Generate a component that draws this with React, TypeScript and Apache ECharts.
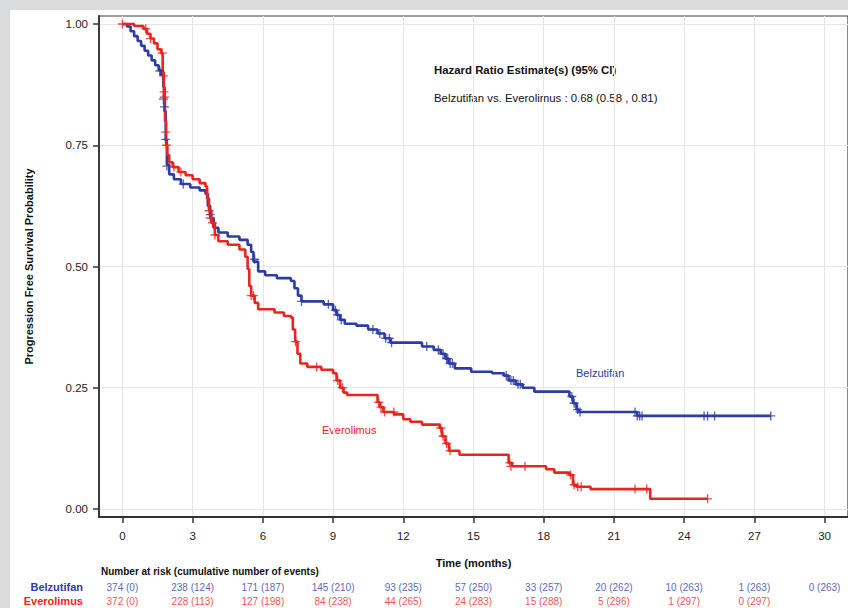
import React, { useEffect, useRef } from "react";
import * as echarts from "echarts";

const FONT = '"Liberation Sans", Arial, Helvetica, sans-serif';
const BLUE = "#2D3CA2";
const RED = "#E8251E";

// Axis ticks
const xTicks = [0, 3, 6, 9, 12, 15, 18, 21, 24, 27, 30];
const yTicks = [0, 0.25, 0.5, 0.75, 1.0];

// Kaplan-Meier step points: [months, survival probability]
const belzutifanCurve: [number, number][] = [
  [0, 1.0], [0.2, 0.995], [0.35, 0.985], [0.5, 0.975], [0.65, 0.965], [0.8, 0.955],
  [0.95, 0.945], [1.1, 0.935], [1.25, 0.925], [1.4, 0.915], [1.55, 0.905], [1.65, 0.895],
  [1.75, 0.87], [1.8, 0.82], [1.85, 0.76], [1.9, 0.71], [2.0, 0.69], [2.2, 0.68],
  [2.5, 0.67], [2.9, 0.663], [3.3, 0.657], [3.55, 0.65], [3.65, 0.625], [3.75, 0.6],
  [3.9, 0.58], [4.1, 0.57], [4.5, 0.562], [5.0, 0.555], [5.35, 0.545], [5.5, 0.53],
  [5.6, 0.51], [5.8, 0.49], [6.1, 0.482], [6.6, 0.476], [7.2, 0.47], [7.35, 0.455],
  [7.5, 0.44], [7.65, 0.428], [8.6, 0.422], [9.0, 0.41], [9.15, 0.4], [9.3, 0.39],
  [9.5, 0.382], [10.0, 0.378], [10.5, 0.37], [10.9, 0.362], [11.2, 0.352], [11.45, 0.343],
  [12.8, 0.335], [13.3, 0.328], [13.6, 0.32], [13.8, 0.31], [13.95, 0.3], [14.2, 0.29],
  [14.9, 0.283], [15.8, 0.28], [16.3, 0.275], [16.5, 0.265], [16.8, 0.257], [17.1, 0.25],
  [17.6, 0.242], [19.1, 0.232], [19.25, 0.218], [19.4, 0.205], [19.5, 0.2], [22.0, 0.192],
  [27.7, 0.192],
];

const everolimusCurve: [number, number][] = [
  [0, 1.0], [0.5, 0.996], [0.9, 0.99], [1.05, 0.98], [1.2, 0.97], [1.35, 0.96],
  [1.5, 0.948], [1.65, 0.94], [1.72, 0.9], [1.77, 0.85], [1.82, 0.8], [1.87, 0.75],
  [1.92, 0.73], [2.0, 0.715], [2.15, 0.705], [2.4, 0.695], [2.7, 0.688], [3.0, 0.68],
  [3.3, 0.672], [3.55, 0.665], [3.62, 0.64], [3.7, 0.615], [3.8, 0.59], [3.95, 0.565],
  [4.1, 0.552], [4.5, 0.545], [5.0, 0.535], [5.25, 0.52], [5.35, 0.495], [5.42, 0.46],
  [5.5, 0.44], [5.65, 0.425], [5.8, 0.412], [6.5, 0.405], [6.9, 0.398], [7.2, 0.395],
  [7.28, 0.37], [7.38, 0.345], [7.48, 0.32], [7.6, 0.3], [7.9, 0.293], [8.5, 0.287],
  [9.0, 0.28], [9.15, 0.265], [9.3, 0.25], [9.45, 0.24], [9.6, 0.235], [10.9, 0.22],
  [11.0, 0.21], [11.15, 0.2], [11.6, 0.195], [12.0, 0.185], [12.3, 0.18], [12.8, 0.174],
  [13.55, 0.167], [13.65, 0.15], [13.8, 0.135], [13.95, 0.12], [14.4, 0.112], [16.5, 0.095],
  [16.65, 0.088], [18.1, 0.082], [18.45, 0.075], [19.1, 0.07], [19.25, 0.05], [19.4, 0.046],
  [20.0, 0.041], [22.55, 0.021], [25.0, 0.021],
];

// Censored observations: [months, survival probability]
const belzutifanCensored: [number, number][] = [
  [1.6, 0.903], [1.75, 0.845], [1.8, 0.829], [1.85, 0.762], [1.9, 0.707], [2.6, 0.67],
  [3.75, 0.607], [5.65, 0.515], [7.65, 0.428], [8.8, 0.422], [9.1, 0.41], [9.2, 0.4],
  [9.35, 0.39], [10.7, 0.37], [11.0, 0.362], [11.25, 0.352], [11.4, 0.352], [11.5, 0.343],
  [13.0, 0.335], [13.5, 0.328], [13.7, 0.32], [13.85, 0.31], [13.9, 0.31], [14.0, 0.3],
  [14.1, 0.3], [16.4, 0.275], [16.6, 0.265], [16.7, 0.265], [16.9, 0.257], [17.0, 0.257],
  [19.2, 0.232], [19.3, 0.218], [19.45, 0.205], [19.55, 0.2], [21.9, 0.2], [22.0, 0.192],
  [22.1, 0.192], [22.2, 0.192], [24.85, 0.192], [25.0, 0.192], [25.3, 0.192], [27.7, 0.192],
];

const everolimusCensored: [number, number][] = [
  [0, 1.0], [1.0, 0.99], [1.2, 0.97], [1.7, 0.94], [1.75, 0.893], [1.78, 0.86],
  [1.79, 0.849], [1.85, 0.777], [1.88, 0.75], [2.2, 0.705], [2.5, 0.695], [3.7, 0.615],
  [3.75, 0.6], [3.85, 0.59], [3.95, 0.565], [5.5, 0.44], [5.6, 0.44], [7.4, 0.345],
  [8.3, 0.293], [9.2, 0.265], [9.4, 0.25], [10.95, 0.22], [11.05, 0.21], [11.2, 0.2],
  [11.6, 0.2], [13.6, 0.167], [13.7, 0.15], [13.85, 0.135], [14.0, 0.12], [16.55, 0.095],
  [16.6, 0.088], [17.2, 0.088], [19.15, 0.07], [19.3, 0.05], [19.45, 0.046], [19.6, 0.046],
  [21.9, 0.041], [22.4, 0.041], [25.0, 0.021],
];

// Number at risk and cumulative events at each x tick
const belzutifanAtRisk = [374, 238, 171, 145, 93, 57, 33, 20, 10, 1, 0];
const belzutifanEvents = [0, 124, 187, 210, 235, 250, 257, 262, 263, 263, 263];
const everolimusAtRisk = [372, 228, 127, 84, 44, 24, 15, 5, 1, 0];
const everolimusEvents = [0, 113, 198, 238, 265, 283, 288, 296, 297, 297];

const PLUS = "path://M4.25,0H5.75V4.25H10V5.75H5.75V10H4.25V5.75H0V4.25H4.25Z";

const GRID_LEFT = 99;
const GRID_WIDTH = 751;

export default function App() {
  const ref = useRef<HTMLDivElement>(null);

  useEffect(() => {
    if (!ref.current) return;
    const chart = echarts.init(ref.current, undefined, { renderer: "svg" });

    const riskRow = (name: string, atRisk: number[], events: number[]) =>
      atRisk.map((n, i) => ({
        value: [xTicks[i], name],
        label: { formatter: `${n} (${events[i]})` },
      }));

    chart.setOption({
      animation: false,
      backgroundColor: "transparent",
      textStyle: { fontFamily: FONT },
      grid: [
        {
          left: GRID_LEFT,
          top: 16,
          width: GRID_WIDTH,
          height: 501,
          show: true,
          borderColor: "#3a3a3a",
          borderWidth: 1.2,
          backgroundColor: "transparent",
        },
        { left: GRID_LEFT, top: 580, width: GRID_WIDTH, height: 30 },
      ],
      xAxis: [
        {
          type: "value",
          gridIndex: 0,
          min: -1,
          max: 31,
          name: "Time (months)",
          nameLocation: "middle",
          nameGap: 40,
          nameTextStyle: { fontFamily: FONT, fontSize: 11, fontWeight: "bold", color: "#111" },
          axisLine: { show: true, onZero: false, lineStyle: { color: "#333", width: 1.8 } },
          axisTick: {
            show: true,
            length: 6,
            customValues: xTicks,
            lineStyle: { color: "#333", width: 1.5 },
          },
          axisLabel: {
            customValues: xTicks,
            margin: 13,
            fontSize: 11.5,
            color: "#222",
            fontFamily: FONT,
          },
          splitLine: { show: true, lineStyle: { color: "#e6e6e6", width: 1 } },
        },
        {
          type: "value",
          gridIndex: 1,
          min: -1,
          max: 31,
          show: false,
        },
      ],
      yAxis: [
        {
          type: "value",
          gridIndex: 0,
          min: -0.0165,
          max: 1.0165,
          name: "Progression Free Survival Probability",
          nameLocation: "middle",
          nameGap: 65,
          nameRotate: 90,
          nameTextStyle: { fontFamily: FONT, fontSize: 11, fontWeight: "bold", color: "#111" },
          axisLine: { show: true, onZero: false, lineStyle: { color: "#333", width: 1.8 } },
          axisTick: {
            show: true,
            length: 6,
            customValues: yTicks,
            lineStyle: { color: "#333", width: 1.5 },
          },
          axisLabel: {
            customValues: yTicks,
            margin: 11,
            fontSize: 11.5,
            color: "#222",
            fontFamily: FONT,
            formatter: (v: number) => v.toFixed(2),
          },
          splitLine: { show: true, lineStyle: { color: "#e6e6e6", width: 1 } },
        },
        {
          type: "category",
          gridIndex: 1,
          data: ["Belzutifan", "Everolimus"],
          inverse: true,
          axisLine: { show: false },
          axisTick: { show: false },
          splitLine: { show: false },
          axisLabel: {
            interval: 0,
            margin: 16,
            formatter: (v: string) => (v === "Belzutifan" ? `{b|${v}}` : `{r|${v}}`),
            rich: {
              b: { color: BLUE, fontWeight: "bold", fontSize: 11, fontFamily: FONT },
              r: { color: RED, fontWeight: "bold", fontSize: 11, fontFamily: FONT },
            },
          },
        },
      ],
      series: [
        {
          name: "Belzutifan",
          type: "line",
          step: "end",
          xAxisIndex: 0,
          yAxisIndex: 0,
          data: belzutifanCurve,
          showSymbol: false,
          lineStyle: { color: BLUE, width: 2.6 },
          z: 3,
        },
        {
          name: "Everolimus",
          type: "line",
          step: "end",
          xAxisIndex: 0,
          yAxisIndex: 0,
          data: everolimusCurve,
          showSymbol: false,
          lineStyle: { color: RED, width: 2.6 },
          z: 4,
        },
        {
          name: "Belzutifan censored",
          type: "scatter",
          xAxisIndex: 0,
          yAxisIndex: 0,
          data: belzutifanCensored,
          symbol: PLUS,
          symbolSize: 9,
          itemStyle: { color: BLUE },
          z: 5,
        },
        {
          name: "Everolimus censored",
          type: "scatter",
          xAxisIndex: 0,
          yAxisIndex: 0,
          data: everolimusCensored,
          symbol: PLUS,
          symbolSize: 9,
          itemStyle: { color: RED },
          z: 6,
        },
        {
          name: "Belzutifan at risk",
          type: "scatter",
          xAxisIndex: 1,
          yAxisIndex: 1,
          data: riskRow("Belzutifan", belzutifanAtRisk, belzutifanEvents),
          symbolSize: 1,
          itemStyle: { color: "transparent" },
          label: { show: true, position: "inside", color: BLUE, fontSize: 10, fontFamily: FONT },
        },
        {
          name: "Everolimus at risk",
          type: "scatter",
          xAxisIndex: 1,
          yAxisIndex: 1,
          data: riskRow("Everolimus", everolimusAtRisk, everolimusEvents),
          symbolSize: 1,
          itemStyle: { color: "transparent" },
          label: { show: true, position: "inside", color: RED, fontSize: 10, fontFamily: FONT },
        },
      ],
      graphic: [
        {
          type: "text",
          left: 434,
          top: 64,
          style: {
            text: "Hazard Ratio Estimate(s) (95% CI)",
            font: `bold 11.4px ${FONT}`,
            fill: "#111",
          },
        },
        {
          type: "text",
          left: 434,
          top: 92,
          style: {
            text: "Belzutifan vs. Everolimus : 0.68 (0.58 , 0.81)",
            font: `11.4px ${FONT}`,
            fill: "#111",
          },
        },
        {
          type: "text",
          left: 576,
          top: 367,
          style: { text: "Belzutifan", font: `11px ${FONT}`, fill: BLUE },
        },
        {
          type: "text",
          left: 322,
          top: 424,
          style: { text: "Everolimus", font: `11px ${FONT}`, fill: RED },
        },
        {
          type: "text",
          left: 101,
          top: 566,
          style: {
            text: "Number at risk (cumulative number of events)",
            font: `bold 10px ${FONT}`,
            fill: "#111",
          },
        },
      ],
    });

    return () => chart.dispose();
  }, []);

  return (
    <div
      style={{
        position: "fixed",
        left: 0,
        top: 0,
        width: 848,
        height: 608,
        background: "#dadbdd",
        overflow: "hidden",
      }}
    >
      <div
        style={{
          position: "absolute",
          left: 10,
          top: 10,
          width: 838,
          height: 598,
          background: "#ffffff",
        }}
      />
      <div
        ref={ref}
        style={{ position: "absolute", left: 0, top: 0, width: 848, height: 608 }}
      />
    </div>
  );
}
